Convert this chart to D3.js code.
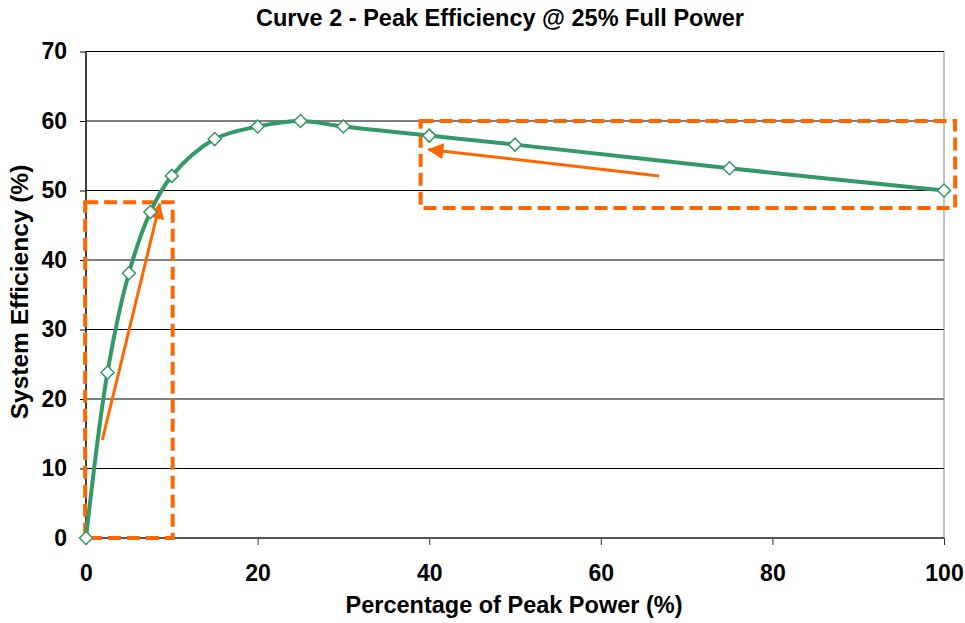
<!DOCTYPE html>
<html>
<head>
<meta charset="utf-8">
<script src="https://cdn.jsdelivr.net/npm/d3@7"></script>
<style>
  body { margin: 0; background: #fff; }
  text { font-family: "Liberation Sans", Arial, sans-serif; font-weight: bold; }
</style>
</head>
<body>
<div id="chart"></div>
<script>

var width = 965,
    height = 623;

// chart values
var powerPct = [0, 2.5, 5, 7.5, 10, 15, 20, 25, 30, 40, 50, 75, 100];
var efficiency = [0, 23.8, 38.1, 46.9, 52.1, 57.4, 59.2, 60, 59.2, 57.9, 56.6, 53.2, 50];
var xTicks = [0, 20, 40, 60, 80, 100];
var yTicks = [0, 10, 20, 30, 40, 50, 60, 70];

// highlight boxes [x0, y0, x1, y1] and arrows [fromX, fromY, toX, toY], in data units
var boxes = [[-0.1, 0, 10.1, 48.3], [39, 47.5, 101.3, 60]];
var arrows = [[1.9, 14.1, 8.6, 48.1], [66.8, 52.1, 39.9, 55.9]];

var green = "#339966",
    orange = "#ff6600";

var svg = d3.select("#chart")
    .append("svg")
    .attr("width", width)
    .attr("height", height);

var x = d3.scaleLinear().domain([0, 100]).range([86, 944]);
var y = d3.scaleLinear().domain([0, 70]).range([538, 51.5]);

// arrow head
svg.append("defs").append("marker")
    .attr("id", "head")
    .attr("markerUnits", "userSpaceOnUse")
    .attr("viewBox", "0 0 16 16")
    .attr("refX", 15)
    .attr("refY", 8)
    .attr("markerWidth", 16)
    .attr("markerHeight", 16)
    .attr("orient", "auto")
    .append("path")
    .attr("d", "M0,0 L16,8 L0,16 Z")
    .attr("fill", orange);

// gridlines
svg.append("g")
    .selectAll("line")
    .data(yTicks.filter(function (d) { return d > 0; }))
    .enter()
    .append("line")
    .attr("x1", x(0))
    .attr("x2", x(100))
    .attr("y1", function (d) { return y(d); })
    .attr("y2", function (d) { return y(d); })
    .attr("stroke", "#000")
    .attr("stroke-width", 1);

// right border
svg.append("line")
    .attr("x1", x(100)).attr("x2", x(100))
    .attr("y1", y(70)).attr("y2", y(0))
    .attr("stroke", "#888");

// axes
var yAxis = svg.append("g")
    .attr("transform", "translate(" + x(0) + ",0)")
    .call(d3.axisLeft(y).tickValues(yTicks).tickSize(6).tickPadding(13));

var xAxis = svg.append("g")
    .attr("transform", "translate(0," + y(0) + ")")
    .call(d3.axisBottom(x).tickValues(xTicks).tickSize(7).tickPadding(20));

yAxis.select(".domain").remove();
xAxis.select(".domain").remove();
yAxis.selectAll("line").attr("stroke", "#000");
xAxis.selectAll("line").attr("stroke", "#333");
yAxis.selectAll("text").style("font-size", "23px").attr("fill", "#000");
xAxis.selectAll("text").style("font-size", "23px").attr("fill", "#000");

svg.append("line")
    .attr("x1", x(0)).attr("x2", x(100))
    .attr("y1", y(0)).attr("y2", y(0))
    .attr("stroke", "#555")
    .attr("stroke-width", 2);

svg.append("line")
    .attr("x1", x(0)).attr("x2", x(0))
    .attr("y1", y(70)).attr("y2", y(0))
    .attr("stroke", "#000")
    .attr("stroke-width", 1.5);

// dashed boxes
svg.append("g")
    .selectAll("rect")
    .data(boxes)
    .enter()
    .append("rect")
    .attr("x", function (d) { return x(d[0]); })
    .attr("y", function (d) { return y(d[3]); })
    .attr("width", function (d) { return x(d[2]) - x(d[0]); })
    .attr("height", function (d) { return y(d[1]) - y(d[3]); })
    .attr("fill", "none")
    .attr("stroke", orange)
    .attr("stroke-width", 4)
    .attr("stroke-dasharray", "13,6");

// the curve
var points = powerPct.map(function (p, i) { return [p, efficiency[i]]; });

var line = d3.line()
    .x(function (d) { return x(d[0]); })
    .y(function (d) { return y(d[1]); })
    .curve(d3.curveCatmullRom.alpha(0.5));

svg.append("path")
    .datum(points)
    .attr("d", line)
    .attr("fill", "none")
    .attr("stroke", green)
    .attr("stroke-width", 4);

// arrows
svg.append("g")
    .selectAll("line")
    .data(arrows)
    .enter()
    .append("line")
    .attr("x1", function (d) { return x(d[0]); })
    .attr("y1", function (d) { return y(d[1]); })
    .attr("x2", function (d) { return x(d[2]); })
    .attr("y2", function (d) { return y(d[3]); })
    .attr("stroke", orange)
    .attr("stroke-width", 3)
    .attr("marker-end", "url(#head)");

// diamond markers
svg.append("g")
    .selectAll("path")
    .data(points)
    .enter()
    .append("path")
    .attr("transform", function (d) { return "translate(" + x(d[0]) + "," + y(d[1]) + ")"; })
    .attr("d", "M0,-6.5 L6.5,0 L0,6.5 L-6.5,0 Z")
    .attr("fill", "#fff")
    .attr("stroke", green)
    .attr("stroke-width", 1.5);

// titles
svg.append("text")
    .attr("x", 500)
    .attr("y", 26)
    .attr("text-anchor", "middle")
    .style("font-size", "23.5px")
    .text("Curve 2 - Peak Efficiency @ 25% Full Power");

svg.append("text")
    .attr("x", 514)
    .attr("y", 613)
    .attr("text-anchor", "middle")
    .style("font-size", "23.5px")
    .text("Percentage of Peak Power (%)");

svg.append("text")
    .attr("transform", "translate(28,292) rotate(-90)")
    .attr("text-anchor", "middle")
    .style("font-size", "24.5px")
    .text("System Efficiency (%)");

</script>
</body>
</html>
